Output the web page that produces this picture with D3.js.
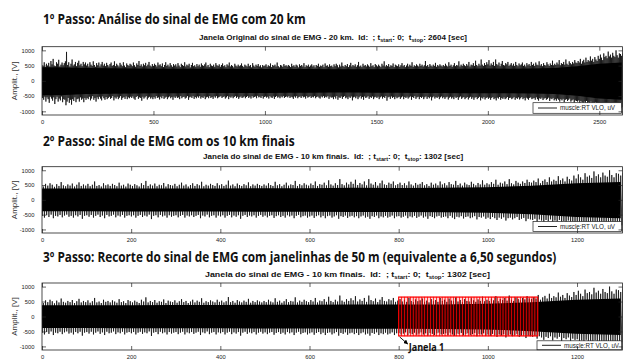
<!DOCTYPE html>
<html>
<head>
<meta charset="utf-8">
<script src="https://cdn.jsdelivr.net/npm/d3@7"></script>
<style>
  html, body { margin: 0; padding: 0; background: #fff; }
  svg { display: block; }
  text { white-space: pre; }
</style>
</head>
<body>
<svg id="chart" width="625" height="363"></svg>
<script>
// ---------------------------------------------------------------
// EMG of muscle RT VLO (uV) over a 20 km trial (0 .. 2604 s).
// Peak envelope per 5 s bin: maximum and minimum amplitude.
// Each row covers 100 s.
// ---------------------------------------------------------------
const binStep = 5;
const peakMax = [
  520, 480, 610, 450, 560, 500, 590, 470, 650, 540, 720, 500, 480, 610, 560, 690, 470, 530, 600, 510,
  580, 640, 950, 520, 610, 470, 560, 700, 500, 540, 620, 480, 590, 660, 510, 560, 480, 620, 540, 600,
  500, 560, 470, 610, 530, 490, 640, 520, 460, 580, 510, 600, 470, 540, 620, 500, 560, 480, 590, 520,
  470, 550, 600, 490, 520, 640, 480, 560, 510, 470, 590, 530, 480, 610, 500, 450, 570, 520, 490, 560,
  530, 480, 600, 510, 460, 570, 520, 650, 490, 540, 470, 560, 510, 590, 480, 530, 620, 500, 470, 550,
  490, 560, 520, 470, 600, 510, 540, 480, 570, 450, 520, 610, 490, 530, 470, 580, 510, 460, 550, 500,
  540, 470, 580, 500, 450, 560, 520, 490, 610, 470, 530, 500, 560, 440, 520, 590, 480, 510, 460, 550,
  480, 530, 460, 570, 510, 490, 540, 600, 470, 520, 450, 560, 500, 480, 530, 460, 580, 510, 490, 540,
  460, 520, 570, 480, 510, 450, 540, 500, 600, 470, 520, 490, 440, 560, 500, 470, 530, 480, 510, 570,
  490, 450, 530, 500, 470, 560, 480, 520, 440, 580, 500, 460, 530, 490, 550, 470, 510, 440, 520, 480,
  500, 540, 460, 510, 480, 570, 450, 520, 490, 530, 470, 600, 480, 440, 520, 500, 460, 550, 490, 510,
  470, 520, 490, 450, 560, 480, 510, 460, 530, 500, 440, 540, 490, 520, 470, 580, 450, 510, 480, 530,
  460, 500, 540, 470, 510, 440, 520, 490, 560, 460, 500, 480, 530, 450, 570, 490, 510, 460, 540, 480,
  500, 450, 540, 480, 560, 510, 440, 530, 470, 600, 490, 460, 520, 480, 550, 450, 510, 590, 470, 520,
  480, 540, 460, 510, 620, 470, 500, 450, 560, 490, 520, 470, 540, 500, 460, 580, 480, 510, 450, 550,
  510, 470, 530, 490, 450, 560, 500, 640, 470, 520, 480, 550, 460, 510, 490, 570, 450, 530, 500, 480,
  540, 460, 510, 580, 480, 520, 450, 500, 560, 470, 530, 490, 610, 460, 510, 480, 540, 500, 470, 560,
  490, 530, 470, 510, 650, 480, 520, 460, 550, 500, 470, 530, 490, 590, 460, 520, 480, 540, 500, 470,
  520, 480, 560, 500, 470, 610, 490, 530, 460, 510, 580, 480, 520, 500, 640, 470, 530, 490, 560, 510,
  480, 550, 500, 620, 470, 530, 510, 580, 490, 660, 520, 480, 560, 500, 700, 530, 490, 580, 520, 610,
  540, 680, 500, 570, 520, 620, 490, 700, 550, 510, 600, 480, 560, 650, 520, 500, 580, 540, 620, 490,
  530, 580, 500, 560, 490, 620, 520, 480, 570, 510, 540, 600, 490, 530, 470, 580, 510, 550, 490, 620,
  520, 560, 490, 600, 530, 510, 640, 500, 550, 480, 580, 520, 500, 610, 540, 490, 570, 520, 660, 510,
  560, 520, 600, 540, 680, 510, 580, 550, 620, 530, 700, 560, 520, 640, 580, 540, 620, 570, 680, 600,
  580, 650, 600, 720, 560, 640, 690, 600, 760, 620, 680, 640, 800, 660, 720, 620, 780, 700, 650, 820,
  720, 860, 760, 680, 900, 780, 820, 740, 960, 800, 860, 760, 920, 820, 780, 1000, 840, 760, 900, 880,
  820, 900
];
const peakMin = [
  -560, -620, -500, -680, -540, -600, -720, -520, -580, -650, -540, -760, -600, -520, -680, -580, -640, -510, -700, -600,
  -620, -800, -680, -560, -720, -620, -780, -600, -660, -540, -700, -600, -580, -680, -540, -620, -580, -700, -560, -620,
  -560, -600, -520, -640, -580, -500, -620, -560, -680, -540, -600, -520, -580, -640, -510, -570, -620, -530, -600, -560,
  -520, -590, -560, -500, -640, -540, -580, -520, -600, -550, -500, -620, -560, -530, -590, -510, -600, -540, -570, -520,
  -560, -510, -580, -620, -530, -500, -590, -540, -560, -650, -520, -580, -540, -500, -610, -550, -520, -580, -540, -600,
  -530, -580, -500, -560, -540, -610, -520, -570, -500, -590, -550, -520, -600, -540, -510, -570, -530, -620, -520, -560,
  -510, -560, -540, -600, -500, -570, -530, -520, -580, -550, -500, -620, -540, -520, -560, -500, -590, -530, -570, -510,
  -550, -500, -580, -530, -560, -510, -600, -540, -520, -570, -500, -560, -530, -590, -510, -550, -500, -570, -540, -520,
  -500, -560, -530, -510, -580, -540, -500, -600, -520, -550, -510, -570, -530, -500, -560, -520, -590, -540, -510, -560,
  -540, -510, -570, -530, -500, -560, -520, -580, -500, -550, -530, -510, -570, -490, -540, -520, -560, -500, -580, -530,
  -510, -550, -520, -580, -500, -540, -560, -510, -590, -530, -500, -550, -520, -570, -510, -540, -500, -560, -530, -510,
  -540, -500, -560, -520, -540, -590, -510, -550, -500, -570, -530, -510, -560, -500, -540, -520, -580, -500, -550, -530,
  -500, -560, -520, -540, -500, -570, -530, -510, -550, -580, -510, -540, -500, -560, -520, -540, -500, -590, -520, -550,
  -540, -600, -520, -580, -500, -620, -540, -560, -510, -590, -530, -500, -570, -540, -600, -520, -560, -510, -640, -540,
  -520, -570, -510, -600, -540, -500, -580, -530, -620, -510, -560, -540, -500, -590, -530, -560, -510, -600, -540, -520,
  -560, -520, -600, -540, -510, -580, -530, -560, -500, -650, -540, -520, -590, -510, -560, -530, -600, -520, -570, -540,
  -520, -590, -540, -510, -600, -530, -560, -520, -580, -540, -510, -620, -530, -560, -500, -590, -540, -520, -600, -530,
  -560, -520, -600, -540, -510, -590, -530, -570, -520, -640, -540, -510, -580, -530, -560, -520, -600, -540, -510, -570,
  -530, -590, -540, -520, -610, -550, -520, -580, -540, -600, -520, -560, -530, -620, -540, -510, -590, -550, -530, -600,
  -560, -530, -610, -550, -520, -590, -540, -620, -550, -530, -600, -560, -520, -640, -550, -580, -530, -610, -560, -540,
  -590, -550, -620, -560, -530, -600, -570, -640, -550, -580, -530, -620, -560, -590, -540, -600, -570, -530, -620, -560,
  -550, -600, -570, -530, -620, -560, -590, -540, -610, -570, -530, -600, -560, -640, -550, -580, -620, -560, -540, -600,
  -580, -560, -620, -540, -600, -650, -570, -590, -550, -630, -580, -560, -620, -590, -550, -660, -580, -600, -560, -640,
  -600, -650, -580, -620, -680, -600, -640, -590, -700, -620, -600, -660, -620, -580, -680, -640, -610, -720, -640, -660,
  -680, -640, -740, -660, -700, -780, -680, -720, -660, -800, -700, -740, -680, -820, -720, -760, -700, -840, -740, -780,
  -760, -840, -800, -880, -780, -920, -820, -860, -800, -950, -840, -880, -820, -980, -860, -900, -840, -940, -880, -900,
  -860, -920
];

// Dense core of the signal (solid band), per 100 s
const coreStep = 100;
const coreMax = [450, 440, 420, 410, 405, 400, 400, 395, 395, 390, 390, 385, 385, 380,
                 380, 380, 385, 385, 390, 395, 405, 400, 405, 425, 475, 560, 600];
const coreMin = [-470, -460, -430, -420, -415, -410, -405, -400, -400, -395, -395, -390, -390, -385,
                 -385, -390, -390, -395, -400, -405, -410, -410, -415, -435, -490, -580, -620];

const fullStop = 2604;       // t_stop of the whole 20 km
const lastTenStart = 1302;   // the final 10 km start here
const lastTenStop = 1302;    // t_stop of the final 10 km window

// Axis ticks
const ticksFull = [0, 500, 1000, 1500, 2000, 2500];
const ticksLastTen = [0, 200, 400, 600, 800, 1000, 1200];
const ampTicks = [-1000, -500, 0, 500, 1000];
const ampLimit = 1120;

// 50 m windows (6,50 s each) over the final 10 km, starting at 800 s
const windowLength = 6.5;
const windowAmp = 650;
const windowStarts = [
  800, 806.5, 813, 819.5, 826, 832.5, 839, 845.5, 852, 858.5,
  865, 871.5, 878, 884.5, 891, 897.5, 904, 910.5, 917, 923.5,
  930, 936.5, 943, 949.5, 956, 962.5, 969, 975.5, 982, 988.5,
  995, 1001.5, 1008, 1014.5, 1021, 1027.5, 1034, 1040.5, 1047, 1053.5,
  1060, 1066.5, 1073, 1079.5, 1086, 1092.5, 1099, 1105.5
];

const headings = [
  "1º Passo: Análise do sinal de EMG com 20 km",
  "2º Passo: Sinal de EMG com os 10 km finais",
  "3º Passo: Recorte do sinal de EMG com janelinhas de 50 m (equivalente a 6,50 segundos)"
];
const subtitleLeads = [
  "Janela Original do sinal de EMG - 20 km.  Id:  ; t",
  "Janela do sinal de EMG - 10 km finais.  Id:  ; t",
  "Janela do sinal de EMG - 10 km finais.  Id:  ; t"
];
const subtitleStops = [fullStop, lastTenStop, lastTenStop];
const legendLabel = "muscle:RT VLO, uV";
const yLabel = "Amplit., [V]";
const windowLabel = "Janela 1";

// ---------------------------------------------------------------
// Layout
// ---------------------------------------------------------------
const svg = d3.select("#chart");
const plotLeft = 42, plotRight = 622.5;
const tickFont = "'Liberation Sans', Arial, sans-serif";
const headFont = "'Open Sans', 'Noto Sans', sans-serif";

const panels = [
  { top: 46.7, bottom: 115, t0: 0, dur: fullStop, ticks: ticksFull,
    headY: 24, headW: 263, subX: 199, subW: 269, subY: 40,
    legTop: 102.7, legBottom: 113.3, legLeft: 533 },
  { top: 166.7, bottom: 233, t0: lastTenStart, dur: lastTenStop, ticks: ticksLastTen,
    headY: 145.7, headW: 252, subX: 203, subW: 261, subY: 158.5,
    legTop: 221.5, legBottom: 231.5, legLeft: 533 },
  { top: 283, bottom: 350, t0: lastTenStart, dur: lastTenStop, ticks: ticksLastTen,
    headY: 262, headW: 514, subX: 205, subW: 286, subY: 277,
    legTop: 340.8, legBottom: 349.8, legLeft: 537, windows: true }
];

// stretch a text element horizontally so it spans a given width
function fitWidth(sel, x, y, width) {
  const w = sel.node().getBBox().width;
  sel.attr("transform", `translate(${x},${y}) scale(${width / w},1)`);
}

const defs = svg.append("defs");
defs.append("marker")
  .attr("id", "arrowHead")
  .attr("viewBox", "0 0 10 10")
  .attr("refX", 9).attr("refY", 5)
  .attr("markerWidth", 5).attr("markerHeight", 5)
  .attr("orient", "auto")
  .append("path").attr("d", "M0,0 L10,5 L0,10 Z").attr("fill", "#000");

panels.forEach((p, k) => {
  const x = d3.scaleLinear().domain([0, p.dur]).range([plotLeft, plotRight]);
  const y = d3.scaleLinear().domain([-ampLimit, ampLimit]).range([p.bottom, p.top]);
  const g = svg.append("g");

  // heading
  const head = g.append("text")
    .attr("font-family", headFont).attr("font-weight", 700)
    .attr("font-size", 13.5).attr("fill", "#111")
    .text(headings[k]);
  fitWidth(head, 43, p.headY, p.headW);

  // plot title with subscripts
  const sub = g.append("text")
    .attr("font-family", tickFont).attr("font-weight", 700)
    .attr("font-size", 8).attr("fill", "#111");
  sub.append("tspan").text(subtitleLeads[k]);
  sub.append("tspan").attr("font-size", 5.5).attr("dy", 2).text("start");
  sub.append("tspan").attr("dy", -2).text(": 0;  t");
  sub.append("tspan").attr("font-size", 5.5).attr("dy", 2).text("stop");
  sub.append("tspan").attr("dy", -2).text(`: ${subtitleStops[k]} [sec]`);
  fitWidth(sub, p.subX, p.subY, p.subW);

  // clip region
  const clipId = `clip${k}`;
  defs.append("clipPath").attr("id", clipId)
    .append("rect")
    .attr("x", plotLeft).attr("y", p.top)
    .attr("width", plotRight - plotLeft).attr("height", p.bottom - p.top);

  const plot = g.append("g").attr("clip-path", `url(#${clipId})`);

  // solid core band
  const core = coreMax.map((v, i) => ({ t: i * coreStep - p.t0, hi: v, lo: coreMin[i] }))
    .filter(d => d.t >= -coreStep && d.t <= p.dur + coreStep);
  plot.append("path")
    .datum(core)
    .attr("fill", "#000")
    .attr("d", d3.area().x(d => x(d.t)).y0(d => y(d.lo)).y1(d => y(d.hi)));

  // signal trace, alternating bin maximum and minimum
  const pts = [];
  peakMax.forEach((v, i) => {
    const t = i * binStep - p.t0;
    if (t < -binStep || t > p.dur + binStep) return;
    pts.push([t, v]);
    pts.push([t + binStep / 2, peakMin[i]]);
  });
  plot.append("path")
    .datum(pts)
    .attr("fill", "none").attr("stroke", "#000").attr("stroke-width", 0.7)
    .attr("d", d3.line().x(d => x(d[0])).y(d => y(d[1])));

  // 50 m windows
  if (p.windows) {
    const wg = plot.append("g");
    wg.selectAll("rect.win")
      .data(windowStarts)
      .join("rect")
      .attr("class", "win")
      .attr("x", d => x(d))
      .attr("width", d => x(d + windowLength) - x(d))
      .attr("y", y(windowAmp))
      .attr("height", y(-windowAmp) - y(windowAmp))
      .attr("fill", "#ff0000").attr("fill-opacity", 0.16)
      .attr("stroke", "#ff0000").attr("stroke-width", 0.5);
    const first = windowStarts[0];
    const last = windowStarts[windowStarts.length - 1] + windowLength;
    wg.append("rect")
      .attr("x", x(first)).attr("width", x(last) - x(first))
      .attr("y", y(windowAmp)).attr("height", y(-windowAmp) - y(windowAmp))
      .attr("fill", "none").attr("stroke", "#ff0000").attr("stroke-width", 1);
  }

  // legend
  const leg = g.append("g");
  leg.append("rect")
    .attr("x", p.legLeft).attr("y", p.legTop)
    .attr("width", plotRight - 1 - p.legLeft).attr("height", p.legBottom - p.legTop)
    .attr("fill", "#fff").attr("stroke", "#222").attr("stroke-width", 0.7);
  const legMid = (p.legTop + p.legBottom) / 2;
  leg.append("line")
    .attr("x1", p.legLeft + 5).attr("x2", p.legLeft + 24)
    .attr("y1", legMid).attr("y2", legMid)
    .attr("stroke", "#222").attr("stroke-width", 1);
  const legText = leg.append("text")
    .attr("font-family", tickFont).attr("font-size", 6.3).attr("fill", "#222")
    .text(legendLabel);
  fitWidth(legText, p.legLeft + 27, legMid + 2.2, 56);

  // axes: ticks pointing inwards on all four sides
  const fmt = d => String(d);
  const axStyle = s => {
    s.select(".domain").remove();
    s.selectAll("line").attr("stroke", "#222").attr("stroke-width", 0.7);
    s.selectAll("text").attr("fill", "#222").attr("font-family", tickFont).attr("font-size", 5.8);
  };
  g.append("g").attr("transform", `translate(0,${p.bottom})`)
    .call(d3.axisBottom(x).tickValues(p.ticks).tickSize(-4).tickPadding(4.5).tickFormat(fmt))
    .call(axStyle);
  g.append("g").attr("transform", `translate(0,${p.top})`)
    .call(d3.axisTop(x).tickValues(p.ticks).tickSize(-4).tickFormat(""))
    .call(axStyle);
  g.append("g").attr("transform", `translate(${plotLeft},0)`)
    .call(d3.axisLeft(y).tickValues(ampTicks).tickSize(-4).tickPadding(7.5).tickFormat(fmt))
    .call(axStyle);
  g.append("g").attr("transform", `translate(${plotRight},0)`)
    .call(d3.axisRight(y).tickValues(ampTicks).tickSize(-4).tickFormat(""))
    .call(axStyle);

  // frame
  g.append("rect")
    .attr("x", plotLeft).attr("y", p.top)
    .attr("width", plotRight - plotLeft).attr("height", p.bottom - p.top)
    .attr("fill", "none").attr("stroke", "#222").attr("stroke-width", 0.8);

  // y label
  g.append("text")
    .attr("transform", `translate(14,${(p.top + p.bottom) / 2}) rotate(-90)`)
    .attr("text-anchor", "middle").attr("dy", "0.35em")
    .attr("font-family", tickFont).attr("font-size", 8).attr("fill", "#333")
    .text(yLabel);

  // annotation for the first window
  if (p.windows) {
    const wx = x(windowStarts[0]);
    g.append("line")
      .attr("x1", wx + 1).attr("y1", y(-windowAmp) + 1)
      .attr("x2", wx + 9).attr("y2", y(-windowAmp) + 8)
      .attr("stroke", "#000").attr("stroke-width", 0.9)
      .attr("marker-end", "url(#arrowHead)");
    const lbl = g.append("text")
      .attr("font-family", headFont).attr("font-weight", 700)
      .attr("font-size", 10).attr("fill", "#111")
      .text(windowLabel);
    fitWidth(lbl, wx + 10, 350.5, 36.5);
  }
});
</script>
</body>
</html>
